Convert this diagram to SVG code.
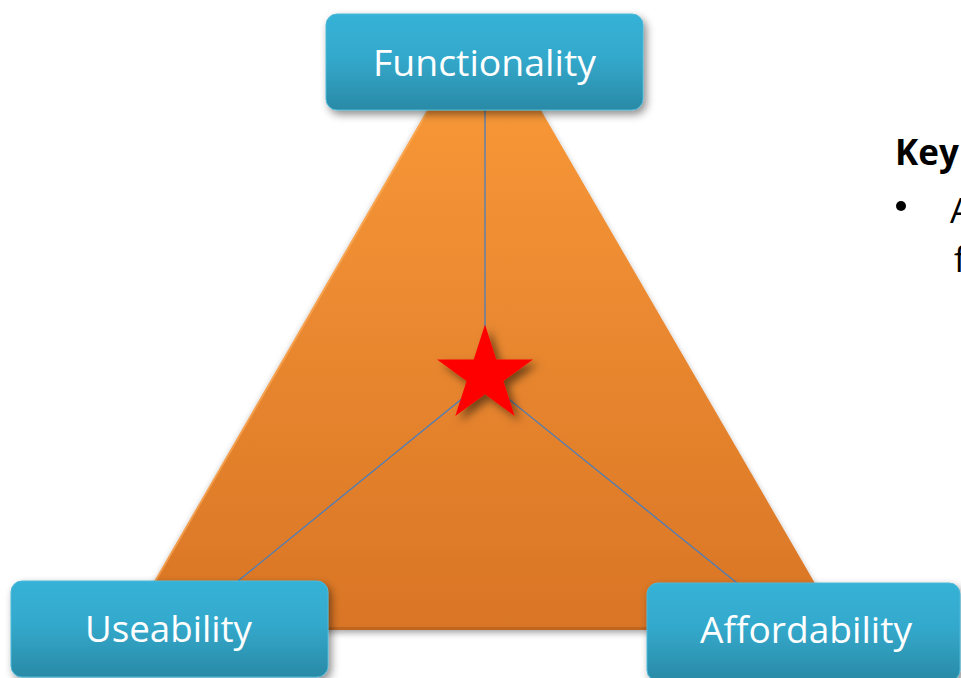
<svg xmlns="http://www.w3.org/2000/svg" width="961" height="678" viewBox="0 0 961 678">
<defs>
<linearGradient id="triGrad" x1="0" y1="0" x2="0" y2="1">
<stop offset="0" stop-color="#FB9C3A"/>
<stop offset="1" stop-color="#D97526"/>
</linearGradient>
<linearGradient id="boxGrad" x1="0" y1="0" x2="0" y2="1">
<stop offset="0" stop-color="#36B2D7"/>
<stop offset="0.45" stop-color="#33A9CC"/>
<stop offset="1" stop-color="#2A8AA6"/>
</linearGradient>
<filter id="shadow" x="-10%" y="-10%" width="130%" height="140%">
<feDropShadow dx="3" dy="4" stdDeviation="4" flood-color="#000" flood-opacity="0.45"/>
</filter>
<filter id="triShadow" x="-10%" y="-10%" width="120%" height="120%">
<feDropShadow dx="0" dy="3" stdDeviation="3" flood-color="#000" flood-opacity="0.35"/>
</filter>
<filter id="starShadow" x="-30%" y="-30%" width="170%" height="170%">
<feDropShadow dx="5" dy="5" stdDeviation="4" flood-color="#000" flood-opacity="0.5"/>
</filter>
<style>
.box { fill: url(#boxGrad); stroke: #4DB8D8; stroke-width: 1; filter: url(#shadow); }
.label { font-family: "Open Sans", "Noto Sans", sans-serif; font-size: 36px; fill: #FFFFFF; text-anchor: middle; }
.conn { stroke: #4A7EBB; stroke-width: 1.3; fill: none; }
.key { font-family: "Open Sans", "Liberation Sans", sans-serif; font-size: 35px; fill: #000; }
</style>
</defs>

<g id="triangle">
<path d="M477,24 Q484,12 491,24 L842,630 L126,630 Z" fill="url(#triGrad)" filter="url(#triShadow)"/>
<path d="M477,26 L128,628" stroke="#FDB160" stroke-width="2" opacity="0.6" fill="none"/>
<path d="M127,628.5 L841,628.5" stroke="#B9641F" stroke-width="3" opacity="0.85" fill="none"/>
</g>

<g id="connectors">
<line class="conn" x1="485" y1="110" x2="485" y2="380"/>
<line class="conn" x1="485" y1="380" x2="238" y2="581"/>
<line class="conn" x1="485" y1="380" x2="737" y2="583"/>
</g>

<g id="star">
<polygon points="485,324.5 496.3,359.4 533,359.4 503.4,381 514.7,415.9 485,394.3 455.3,415.9 466.6,381 437,359.4 473.7,359.4" fill="#FF0000" filter="url(#starShadow)"/>
</g>

<g id="functionality">
<rect class="box" x="326" y="14" width="317" height="96" rx="11"/>
<text class="label" x="484.5" y="76" textLength="223" lengthAdjust="spacingAndGlyphs">Functionality</text>
</g>

<g id="useability">
<rect class="box" x="11" y="581" width="317" height="96" rx="11"/>
<text class="label" x="168.5" y="642" textLength="167" lengthAdjust="spacingAndGlyphs">Useability</text>
</g>

<g id="affordability">
<rect class="box" x="647" y="583" width="313" height="98" rx="11"/>
<text class="label" x="806" y="643" textLength="212" lengthAdjust="spacingAndGlyphs">Affordability</text>
</g>

<g id="key">
<text class="key" x="895" y="165" font-weight="bold">Key</text>
<circle cx="901" cy="206" r="5" fill="#000"/>
<text class="key" x="950" y="223">A</text>
<text class="key" x="954" y="272">f</text>
</g>
</svg>
